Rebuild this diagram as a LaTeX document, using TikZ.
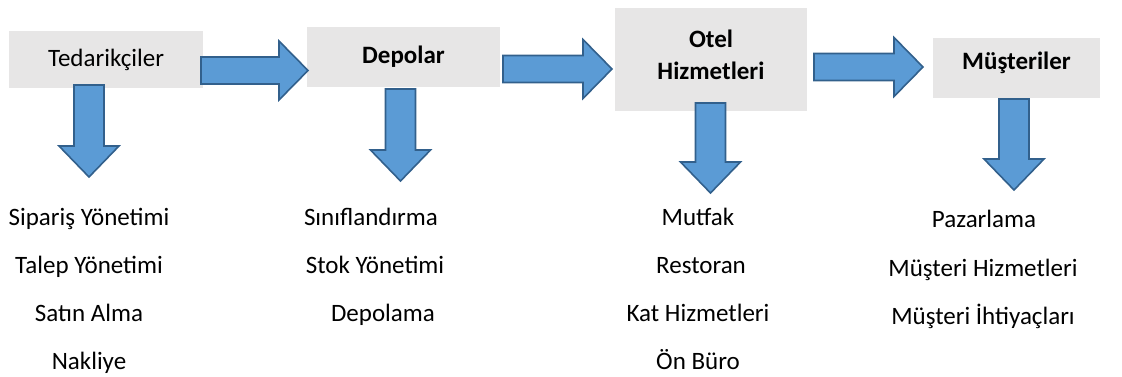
\documentclass[tikz,border=0pt]{standalone}
\usepackage{fontspec}
\setmainfont{Carlito}
\usepackage{tikz}
\usetikzlibrary{positioning, calc}

\definecolor{boxgray}{RGB}{231,230,230}
\definecolor{arrowfill}{RGB}{91,155,213}
\definecolor{arrowline}{RGB}{50,96,140}

% block arrow pointing right, from shaft start #1 to tip #2
\newcommand{\blockright}[2]{%
  \draw[blockarrow] ($(#1)+(0,-13.5)$) -- ($(#2)+(-29,-13.5)$) -- ($(#2)+(-29,-29.5)$) -- (#2)
    -- ($(#2)+(-29,29.5)$) -- ($(#2)+(-29,13.5)$) -- ($(#1)+(0,13.5)$) -- cycle;}
% block arrow pointing down, from shaft top #1 to tip #2
\newcommand{\blockdown}[2]{%
  \draw[blockarrow] ($(#1)+(-15,0)$) -- ($(#1)+(15,0)$) -- ($(#2)+(15,-31)$) -- ($(#2)+(30,-31)$) -- (#2)
    -- ($(#2)+(-30,-31)$) -- ($(#2)+(-15,-31)$) -- cycle;}

\begin{document}
\begin{tikzpicture}[
  x=1pt, y=-1pt,
  font=\fontsize{25}{32}\selectfont,
  stage/.style={
    fill=boxgray,
    inner sep=0pt,
    align=center,
  },
  blockarrow/.style={
    fill=arrowfill,
    draw=arrowline,
    line width=1.6pt,
    line join=miter,
  },
  item/.style={anchor=base, inner sep=0pt},
]
\useasboundingbox (0,0) rectangle (1122,376);

% --- stages ---
\node[stage, minimum width=194pt, minimum height=57pt] (tedarik) at (106,59.5) {Tedarik\c{c}iler};
\node[stage, minimum width=193pt, minimum height=60pt] (depo) at (403.5,57) {\textbf{Depolar}};
\node[stage, minimum width=192pt, minimum height=103pt, text depth=9pt] (otel) at (711,59.5) {\textbf{Otel}\\\textbf{Hizmetleri}};
\node[stage, minimum width=167pt, minimum height=60pt, text depth=14pt] (musteri) at (1016.5,68) {\textbf{Müşteriler}};

% --- arrow ends ---
\coordinate (r1s) at (201,70.5);  \coordinate (r1t) at (308,70.5);
\coordinate (r2s) at (503,69);    \coordinate (r2t) at (612,69);
\coordinate (r3s) at (814,67);    \coordinate (r3t) at (923,67);
\coordinate (d1s) at (89,85);     \coordinate (d1t) at (89,177);
\coordinate (d2s) at (400.5,89);  \coordinate (d2t) at (400.5,181);
\coordinate (d3s) at (710.5,103); \coordinate (d3t) at (710.5,193);
\coordinate (d4s) at (1014,99);   \coordinate (d4t) at (1014,190);

% flow between stages
\blockright{r1s}{r1t}
\blockright{r2s}{r2t}
\blockright{r3s}{r3t}
% down to the tasks
\blockdown{d1s}{d1t}
\blockdown{d2s}{d2t}
\blockdown{d3s}{d3t}
\blockdown{d4s}{d4t}

% --- Tedarikçiler tasks ---
\node[item] (siparis) at (89,225) {Sipariş Yönetimi};
\node[item] (talep)   at (89,273) {Talep Yönetimi};
\node[item] (satin)   at (89,321) {Satın Alma};
\node[item] (nakliye) at (89,369) {Nakliye};

% --- Depolar tasks ---
\node[item] (sinif)   at (371,225) {Sınıflandırma};
\node[item] (stok)    at (375,273) {Stok Yönetimi};
\node[item] (depola)  at (383,321) {Depolama};

% --- Otel Hizmetleri tasks ---
\node[item] (mutfak)  at (698,225) {Mutfak};
\node[item] (restor)  at (701,273) {Restoran};
\node[item] (kat)     at (698,321) {Kat Hizmetleri};
\node[item] (onburo)  at (698,369) {Ön Büro};

% --- Müşteriler tasks ---
\node[item] (pazar)   at (984,227) {Pazarlama};
\node[item] (mhizmet) at (983,276) {Müşteri Hizmetleri};
\node[item] (mihtiya) at (983,324) {Müşteri İhtiyaçları};
\end{tikzpicture}
\end{document}
